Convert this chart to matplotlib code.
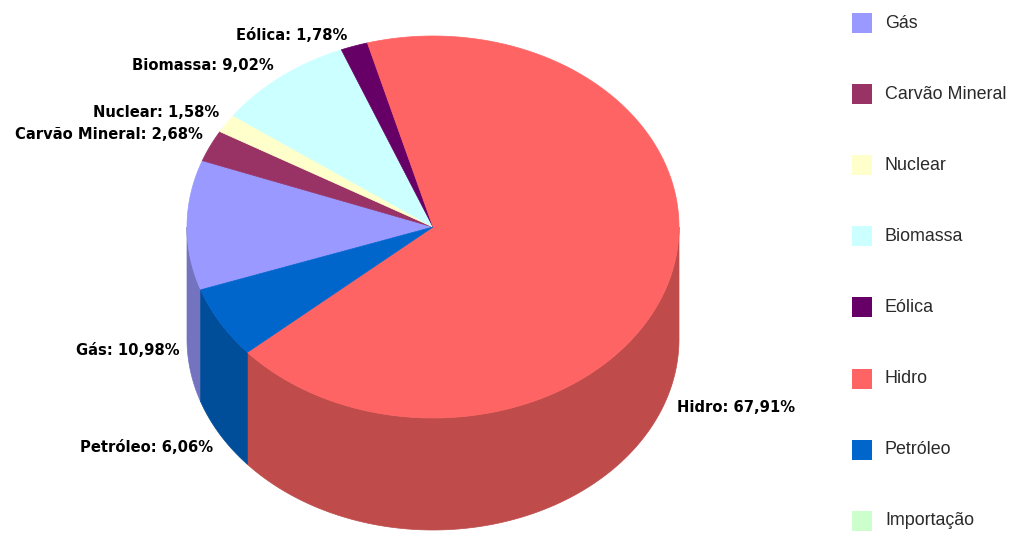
import numpy as np
import matplotlib.pyplot as plt
from matplotlib.patches import Polygon, Rectangle
from matplotlib.colors import to_rgb

# matriz energética (%)
fontes = ['Gás', 'Carvão Mineral', 'Nuclear', 'Biomassa', 'Eólica', 'Hidro', 'Petróleo', 'Importação']
percentuais = [10.98, 2.68, 1.58, 9.02, 1.78, 67.91, 6.06, 0.0]
cores = ['#9999FF', '#993366', '#FFFFCC', '#CCFFFF', '#660066', '#FF6464', '#0066CC', '#CCFFCC']

# geometria da pizza 3D (em pixels)
cx, cy = 433, 227
rx, ry = 246, 191
altura = 112
inicio = 199.2


def ponto(t, dy=0):
    r = np.radians(t)
    return cx + rx * np.cos(r), cy - ry * np.sin(r) + dy


def arco(t0, t1, dy=0):
    ts = np.linspace(t0, t1, max(int(abs(t1 - t0) * 2), 2))
    r = np.radians(ts)
    return np.column_stack([cx + rx * np.cos(r), cy - ry * np.sin(r) + dy])


def partes_frontais(lo, hi):
    # trechos da borda voltados para a frente (metade de baixo da elipse)
    out = []
    for a0, a1 in [(-180, 0), (180, 360), (-540, -360)]:
        s, e = max(lo, a0), min(hi, a1)
        if e > s:
            out.append((s, e))
    return out


fig = plt.figure(figsize=(10.09, 5.52), dpi=100)
ax = fig.add_axes([0, 0, 1, 1])
ax.set_xlim(0, 1009)
ax.set_ylim(552, 0)
ax.axis('off')

total = sum(percentuais)
angulos = []
a = inicio
for v in percentuais:
    ext = v / total * 360
    angulos.append((a - ext, a))  # sentido horário
    a -= ext

# laterais
for v, cor, (lo, hi) in zip(percentuais, cores, angulos):
    if v <= 0:
        continue
    escura = np.array(to_rgb(cor)) * 0.75
    for s, e in partes_frontais(lo, hi):
        pts = np.vstack([arco(s, e), arco(e, s, altura)])
        ax.add_patch(Polygon(pts, closed=True, facecolor=escura, edgecolor=escura, lw=0.5))

# topo
for v, cor, (lo, hi) in zip(percentuais, cores, angulos):
    if v <= 0:
        continue
    pts = np.vstack([[cx, cy], arco(hi, lo)])
    ax.add_patch(Polygon(pts, closed=True, facecolor=cor, edgecolor=cor, lw=0.5))

# rótulos
for nome, v, (lo, hi) in zip(fontes, percentuais, angulos):
    if v <= 0:
        continue
    meio = (lo + hi) / 2
    x, y = ponto(meio)
    if np.sin(np.radians(meio)) < 0.05:
        y += altura + 13
    else:
        y -= 11
    esquerda = np.cos(np.radians(meio)) < 0
    x += -7 if esquerda else 8
    texto = f'{nome}: {v:.2f}%'.replace('.', ',')
    ax.text(x, y, texto, ha='right' if esquerda else 'left', va='center',
            fontsize=10.6, fontweight='bold', family='DejaVu Sans', color='black')

# legenda
for i, (nome, cor) in enumerate(zip(fontes, cores)):
    y = 23 + i * 71.1
    ax.add_patch(Rectangle((852, y - 10), 20, 20, facecolor=cor, edgecolor='none'))
    ax.text(885, y, nome, ha='left', va='center', fontsize=12.9,
            family='Liberation Sans', color='#2a2a2a')

fig.savefig('out.png', dpi=100, facecolor='white')
